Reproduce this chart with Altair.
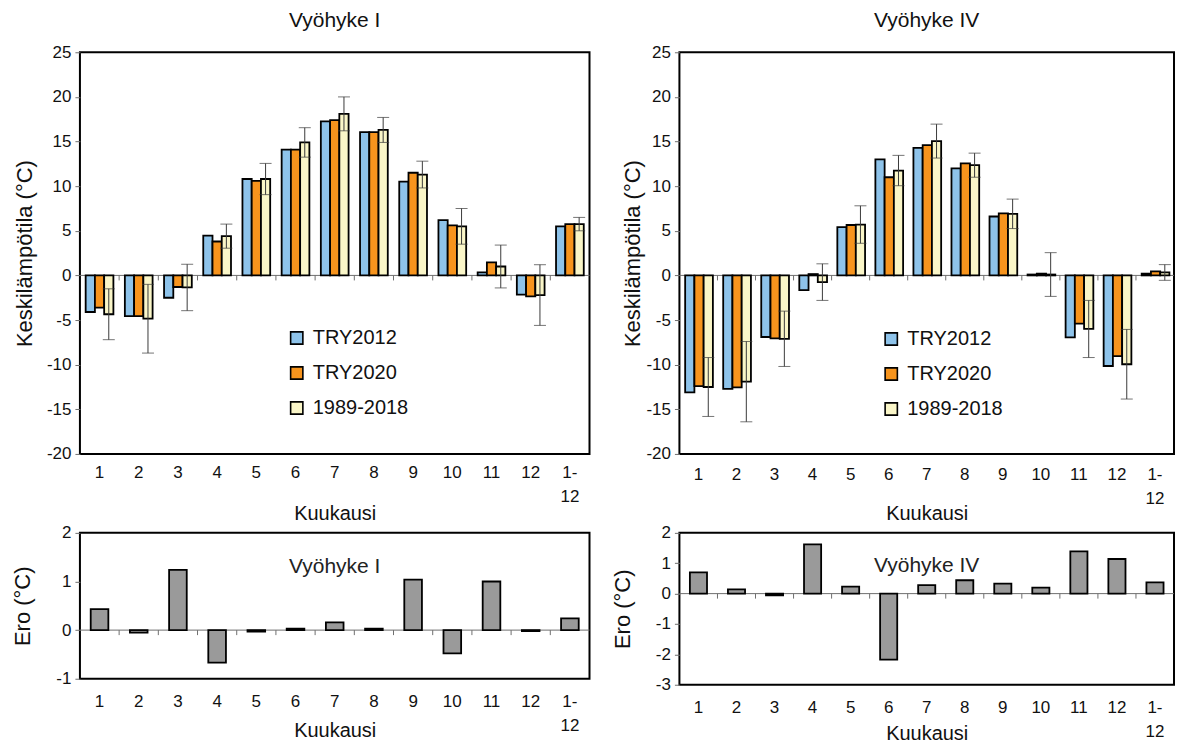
import altair as alt
import pandas as pd

# Months on the category axis; the last one is the annual mean
months = ["1", "2", "3", "4", "5", "6", "7", "8", "9", "10", "11", "12", "1-12"]
series = ["TRY2012", "TRY2020", "1989-2018"]
series_colors = ["#8EC3EA", "#F7941D", "#FAF6C8"]

# Vyöhyke I monthly mean temperatures (°C)
try2012_I = [-4.1, -4.55, -2.5, 4.45, 10.8, 14.1, 17.25, 16.05, 10.5, 6.2, 0.35, -2.15, 5.5]
try2020_I = [-3.6, -4.55, -1.3, 3.8, 10.6, 14.1, 17.4, 16.05, 11.5, 5.6, 1.45, -2.35, 5.75]
obs_I = [-4.35, -4.85, -1.35, 4.4, 10.8, 14.9, 18.1, 16.3, 11.3, 5.5, 1.0, -2.2, 5.75]
sd_I = [2.85, 3.85, 2.6, 1.35, 1.75, 1.65, 1.9, 1.4, 1.5, 2.0, 2.4, 3.4, 0.75]

# Vyöhyke IV monthly mean temperatures (°C)
try2012_IV = [-13.1, -12.7, -6.9, -1.65, 5.4, 13.0, 14.3, 12.0, 6.6, 0.1, -6.95, -10.15, 0.2]
try2020_IV = [-12.4, -12.55, -7.05, 0.15, 5.65, 11.0, 14.6, 12.55, 6.95, 0.2, -5.4, -9.05, 0.45]
obs_IV = [-12.5, -11.9, -7.1, -0.75, 5.7, 11.75, 15.05, 12.35, 6.9, 0.1, -6.0, -9.95, 0.33]
sd_IV = [3.3, 4.5, 3.1, 2.05, 2.1, 1.7, 1.9, 1.35, 1.65, 2.45, 3.2, 3.9, 0.88]

# Differences (°C)
ero_I = [0.43, -0.05, 1.24, -0.67, -0.03, 0.03, 0.16, 0.03, 1.04, -0.48, 1.0, -0.02, 0.24]
ero_IV = [0.7, 0.14, -0.06, 1.62, 0.23, -2.17, 0.28, 0.44, 0.33, 0.2, 1.39, 1.14, 0.37]

FONT = "Liberation Sans"
TICK_GRAY = "#6E6E6E"
ERR_COLOR = "#3A3A3A"
LABEL_EXPR = "datum.value == '1-12' ? ['1-', '12'] : datum.label"


def x_axis(label_pad, title_y):
    return alt.Axis(
        title="Kuukausi", titleFontSize=20, titleY=title_y, titleBaseline="middle",
        labelFontSize=17, labelPadding=label_pad, labelAngle=0, labelExpr=LABEL_EXPR,
        labelLineHeight=24, labelBaseline="top", labelOverlap=False,
        ticks=False, domain=False, grid=False,
    )


def y_axis(title, values, title_x, title_size):
    return alt.Axis(
        title=title, titleFontSize=title_size, titleX=title_x, titleBaseline="middle",
        titleAngle=-90, values=values, labelExpr="toString(datum.value)",
        labelOverlap=False, labelFontSize=17, labelPadding=4,
        tickSize=5, tickColor=TICK_GRAY, ticks=True, domain=False, grid=False,
    )


def zero_and_ticks(height, domain, xs, ys, xa, ya):
    """Grey zero line with short marks at the month boundaries."""
    per_px = (domain[1] - domain[0]) / height
    zero = alt.Chart(pd.DataFrame({"nolla": [0.0]})).mark_rule(
        color=TICK_GRAY, strokeWidth=1
    ).encode(y=alt.Y("nolla:Q", scale=ys, axis=ya))
    marks = alt.Chart(pd.DataFrame({"kk": months[1:], "a": 0.0, "b": -5 * per_px})).mark_rule(
        color=TICK_GRAY, strokeWidth=1
    ).encode(
        x=alt.X("kk:N", bandPosition=0, sort=months, scale=xs, axis=xa),
        y=alt.Y("a:Q", scale=ys, axis=ya),
        y2="b:Q",
    )
    return zero, marks


def top_panel(title, t12, t20, obs, sd, width, height, title_x, label_pad, title_y, legend_x, legend_y):
    domain = [-20, 25]
    rows = []
    for name, vals in zip(series, [t12, t20, obs]):
        for m, v in zip(months, vals):
            rows.append({"kk": m, "sarja": name, "arvo": v})
    bars_df = pd.DataFrame(rows)
    err_df = pd.DataFrame({
        "kk": months,
        "sarja": "1989-2018",
        "ala": [o - s for o, s in zip(obs, sd)],
        "yla": [o + s for o, s in zip(obs, sd)],
    })

    xs = alt.Scale(domain=months, padding=0)
    xo = alt.XOffset("sarja:N", scale=alt.Scale(domain=series, paddingOuter=0.62, paddingInner=0))
    ys = alt.Scale(domain=domain, nice=False, zero=False)
    xa = x_axis(label_pad, title_y)
    ya = y_axis("Keskilämpötila (°C)", list(range(-20, 26, 5)), title_x, 22)

    bars = alt.Chart(bars_df).mark_bar(stroke="black", strokeWidth=1.8).encode(
        x=alt.X("kk:N", sort=months, scale=xs, axis=xa),
        xOffset=xo,
        y=alt.Y("arvo:Q", scale=ys, axis=ya),
        color=alt.Color(
            "sarja:N",
            scale=alt.Scale(domain=series, range=series_colors),
            legend=alt.Legend(
                orient="none", legendX=legend_x, legendY=legend_y, title=None,
                symbolType="square", symbolSize=150, symbolStrokeColor="black",
                symbolStrokeWidth=1.6, symbolOpacity=1, labelFontSize=20, labelFont=FONT,
                labelOffset=6, rowPadding=15, labelColor="#111",
            ),
        ),
    )
    err_line = alt.Chart(err_df).mark_rule(color=ERR_COLOR, strokeWidth=1).encode(
        x=alt.X("kk:N", sort=months, scale=xs, axis=xa), xOffset=xo,
        y=alt.Y("ala:Q", scale=ys, axis=ya), y2="yla:Q",
    )
    cap_lo = alt.Chart(err_df).mark_tick(color=ERR_COLOR, thickness=1, size=12).encode(
        x=alt.X("kk:N", sort=months, scale=xs, axis=xa), xOffset=xo,
        y=alt.Y("ala:Q", scale=ys, axis=ya),
    )
    cap_hi = alt.Chart(err_df).mark_tick(color=ERR_COLOR, thickness=1, size=12).encode(
        x=alt.X("kk:N", sort=months, scale=xs, axis=xa), xOffset=xo,
        y=alt.Y("yla:Q", scale=ys, axis=ya),
    )
    zero, marks = zero_and_ticks(height, domain, xs, ys, xa, ya)
    return alt.layer(zero, marks, bars, err_line, cap_lo, cap_hi).properties(
        width=width, height=height,
        title=alt.TitleParams(title, fontSize=21, font=FONT, fontWeight="normal",
                              anchor="middle", frame="group", offset=12, color="#111"),
    )


def bottom_panel(label, ero, domain, values, width, height, title_x, label_pad, title_y, text_at):
    df = pd.DataFrame({"kk": months, "ero": ero})
    xs = alt.Scale(domain=months, padding=0)
    ys = alt.Scale(domain=domain, nice=False, zero=False)
    xa = x_axis(label_pad, title_y)
    ya = y_axis("Ero (°C)", values, title_x, 22)
    bars = alt.Chart(df).mark_bar(
        color="#9A9A9A", stroke="black", strokeWidth=1.8, width=alt.RelativeBandSize(0.45)
    ).encode(
        x=alt.X("kk:N", sort=months, scale=xs, axis=xa),
        y=alt.Y("ero:Q", scale=ys, axis=ya),
    )
    text = alt.Chart(pd.DataFrame({"t": [label], "v": [text_at]})).mark_text(
        fontSize=21, font=FONT, color="#222"
    ).encode(
        x=alt.value(width / 2),
        y=alt.Y("v:Q", scale=ys, axis=ya),
        text="t:N",
    )
    zero, marks = zero_and_ticks(height, domain, xs, ys, xa, ya)
    return alt.layer(zero, marks, bars, text).properties(width=width, height=height)


tl = top_panel("Vyöhyke I", try2012_I, try2020_I, obs_I, sd_I,
               510, 402, -55, 11, 60, 207, 276)
tr = top_panel("Vyöhyke IV", try2012_IV, try2020_IV, obs_IV, sd_IV,
               495, 402, -47, 13, 60, 202, 277)
bl = bottom_panel("Vyöhyke I", ero_I, [-1, 2], [-1, 0, 1, 2],
                  510, 146, -57, 15, 52, 1.3)
br = bottom_panel("Vyöhyke IV", ero_IV, [-3, 2], [-3, -2, -1, 0, 1, 2],
                  495, 152, -57, 15, 49, 0.9)

chart = alt.concat(
    tl, tr, bl, br, columns=2, spacing={"row": 79, "column": 90}, bounds="flush"
).resolve_legend(
    color="independent"
).resolve_scale(color="independent").properties(
    padding={"left": 11, "top": 9, "right": 5, "bottom": 5},
    background="white",
).configure_view(
    stroke="black", strokeWidth=2
).configure_axis(
    labelFont=FONT, titleFont=FONT, labelColor="#111", titleColor="#111",
    titleFontWeight="normal",
).configure_title(font=FONT)

chart.save("out.html", embed_options={"renderer": "svg", "actions": False})
